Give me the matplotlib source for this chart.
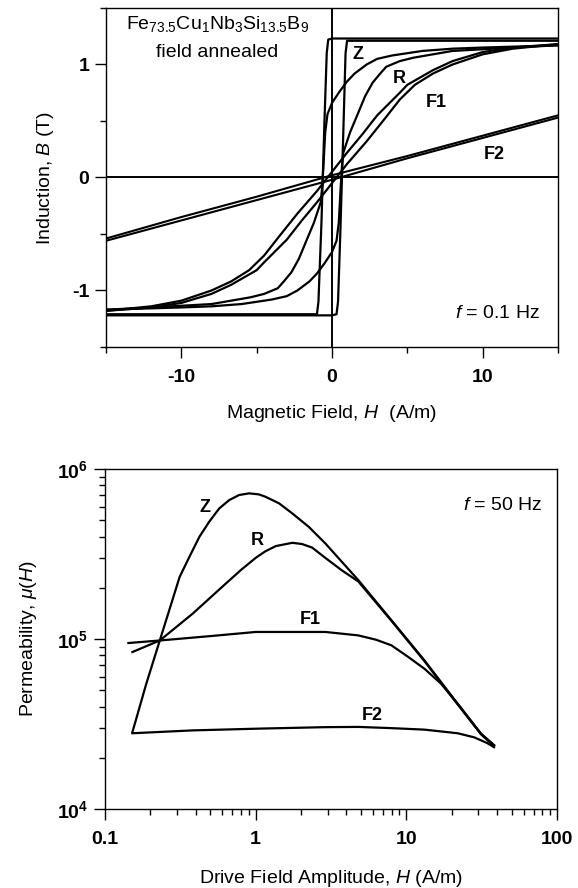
import numpy as np
import matplotlib
matplotlib.use("Agg")
import matplotlib.pyplot as plt
from matplotlib.ticker import MultipleLocator, LogLocator, NullFormatter

plt.rcParams['font.family'] = ['Liberation Sans', 'DejaVu Sans']
plt.rcParams['mathtext.fontset'] = 'custom'
plt.rcParams['mathtext.rm'] = 'Liberation Sans'
plt.rcParams['mathtext.it'] = 'Liberation Sans:italic'
plt.rcParams['mathtext.bf'] = 'Liberation Sans:bold'
plt.rcParams['axes.unicode_minus'] = False

# ----------------- top panel: hysteresis loops at f = 0.1 Hz -----------------
# each loop: descending branch (H from +15 to -15) and ascending branch (-15 to +15)
z_desc_H = [15, 5, 0, -0.25, -0.35, -0.5, -0.7, -0.9, -1.0, -5, -15]
z_desc_B = [1.23, 1.23, 1.23, 1.22, 1.1, 0.5, -0.4, -1.1, -1.21, -1.21, -1.21]
z_asc_H = [-15, -5, 0, 0.3, 0.4, 0.55, 0.75, 0.9, 1.0, 5, 15]
z_asc_B = [-1.22, -1.22, -1.22, -1.21, -1.1, -0.5, 0.4, 1.1, 1.21, 1.21, 1.21]

r_desc_H = [15, 10, 8, 6, 5, 4, 3, 2.3, 1.5, 1, 0.5, 0, -0.3, -0.45, -0.55, -0.65,
            -0.75, -1.2, -1.64, -2.2, -2.7, -3.2, -3.6, -4.5, -5.4, -8, -12, -15]
r_desc_B = [1.17, 1.15, 1.14, 1.12, 1.10, 1.08, 1.05, 1.0, 0.92, 0.85, 0.76, 0.66,
            0.56, 0.4, 0.15, -0.08, -0.22, -0.4, -0.54, -0.72, -0.84, -0.92,
            -0.98, -1.03, -1.06, -1.12, -1.15, -1.17]
r_asc_H = [-15, -10, -8, -6, -5, -4, -3, -2.3, -1.5, -1, -0.5, 0, 0.3, 0.45, 0.55,
           0.65, 0.75, 1.2, 1.64, 2.2, 2.7, 3.2, 3.6, 4.5, 5.4, 8, 12, 15]
r_asc_B = [-1.17, -1.15, -1.14, -1.12, -1.10, -1.08, -1.05, -1.0, -0.92, -0.85,
           -0.76, -0.66, -0.56, -0.4, -0.15, 0.08, 0.22, 0.4, 0.54, 0.72, 0.84,
           0.92, 0.98, 1.03, 1.06, 1.12, 1.15, 1.17]

f1_asc_H = [-15, -12, -10, -8, -6.7, -5, -4.5, -3, -2, -1, 0, 1, 2.3, 3.5, 4.5,
            5.5, 6.7, 8, 10, 12, 15]
f1_asc_B = [-1.18, -1.15, -1.11, -1.03, -0.95, -0.82, -0.75, -0.55, -0.38, -0.22,
            -0.05, 0.12, 0.32, 0.52, 0.69, 0.82, 0.92, 1.0, 1.09, 1.14, 1.18]
f1_desc_H = [15, 12, 10, 8, 6.7, 5, 4.5, 3, 2, 1, 0, -1, -2.3, -3.5, -4.5, -5.5,
             -6.7, -8, -10, -12, -15]
f1_desc_B = [1.18, 1.15, 1.11, 1.03, 0.95, 0.82, 0.75, 0.55, 0.38, 0.22, 0.05,
             -0.12, -0.32, -0.52, -0.69, -0.82, -0.92, -1.0, -1.09, -1.14, -1.18]

f2_asc_H = [-15, -10, -5, 0, 5, 10, 15]
f2_asc_B = [-0.56, -0.38, -0.2, -0.02, 0.17, 0.35, 0.53]
f2_desc_H = [15, 10, 5, 0, -5, -10, -15]
f2_desc_B = [0.55, 0.37, 0.19, 0.02, -0.17, -0.35, -0.54]

# ----------------- bottom panel: permeability at f = 50 Hz -----------------
z_H = [0.152, 0.188, 0.231, 0.313, 0.363, 0.423, 0.492, 0.573, 0.667, 0.776,
       0.904, 1.05, 1.16, 1.43, 1.75, 2.25, 2.90, 4.80, 7.96, 13.2, 21.9, 31.3, 38.2]
z_mu = [28300, 54600, 98000, 232000, 304000, 399000, 490000, 586000, 656000,
        703000, 719000, 709000, 687000, 628000, 548000, 457000, 365000, 222000,
        129000, 74800, 41600, 27700, 23600]

r_H = [0.152, 0.231, 0.382, 0.634, 0.8, 1.0, 1.16, 1.36, 1.75, 2.03, 2.37, 2.9,
       3.72, 4.80, 7.96, 13.2, 21.9, 31.3, 38.2]
r_mu = [83800, 98000, 141000, 212000, 255000, 300000, 328000, 352000, 368000,
        362000, 345000, 300000, 254000, 218000, 128000, 74000, 41300, 27500, 23500]

f1_H = [0.143, 0.231, 0.5, 1.0, 2.9, 4.8, 6.3, 7.96, 10.3, 13.2, 17.0, 21.9,
        31.3, 38.2]
f1_mu = [94700, 98000, 104000, 110000, 110000, 105000, 99000, 91800, 78400,
         66800, 54600, 41600, 27700, 23800]

f2_H = [0.152, 0.382, 1.05, 2.9, 4.8, 7.96, 13.2, 21.9, 28.2, 34.5, 38.2]
f2_mu = [27900, 29000, 29700, 30300, 30400, 29900, 29300, 27900, 26400, 24400,
         23100]

fig = plt.figure(figsize=(5.78, 8.88), dpi=100)

lw = 1.6
ax1 = fig.add_axes([106 / 578, (888 - 347) / 888, 452 / 578, 339 / 888])
ax1.axhline(0, color='black', lw=1.4)
ax1.axvline(0, color='black', lw=1.4)
for H, B in [(z_desc_H, z_desc_B), (z_asc_H, z_asc_B),
             (r_desc_H, r_desc_B), (r_asc_H, r_asc_B),
             (f1_desc_H, f1_desc_B), (f1_asc_H, f1_asc_B)]:
    ax1.plot(H, B, color='black', lw=lw)
for H, B in [(f2_desc_H, f2_desc_B), (f2_asc_H, f2_asc_B)]:
    ax1.plot(H, B, color='black', lw=1.5)

ax1.set_xlim(-15, 15)
ax1.set_ylim(-1.5, 1.5)
ax1.xaxis.set_major_locator(MultipleLocator(10))
ax1.xaxis.set_minor_locator(MultipleLocator(5))
ax1.yaxis.set_major_locator(MultipleLocator(1))
ax1.yaxis.set_minor_locator(MultipleLocator(0.5))
ax1.set_xlabel(r'Magnetic Field, $H$  (A/m)', fontsize=14, labelpad=12)
ax1.set_ylabel(r'Induction, $B$ (T)', fontsize=14)
ax1.yaxis.set_label_coords(-0.11, 0.5)

ax1.text(-7.6, 1.36, r'$\mathrm{Fe_{73.5}Cu_{1}Nb_{3}Si_{13.5}B_{9}}$',
         fontsize=14, ha='center', va='center')
ax1.text(-7.6, 1.11, 'field annealed', fontsize=14, ha='center', va='center')
ax1.text(1.7, 1.09, 'Z', fontsize=13, fontweight='bold', ha='center', va='center')
ax1.text(4.5, 0.88, 'R', fontsize=13, fontweight='bold', ha='center', va='center')
ax1.text(6.9, 0.66, 'F1', fontsize=13, fontweight='bold', ha='center', va='center')
ax1.text(10.8, 0.2, 'F2', fontsize=13, fontweight='bold', ha='center', va='center')
ax1.text(0.96, 0.10, r'$f$ = 0.1 Hz', transform=ax1.transAxes, fontsize=14,
         ha='right', va='center')

ax2 = fig.add_axes([105 / 578, (888 - 809) / 888, 452 / 578, 340 / 888])
ax2.plot(z_H, z_mu, color='black', lw=lw)
ax2.plot(r_H, r_mu, color='black', lw=lw)
ax2.plot(f1_H, f1_mu, color='black', lw=lw)
ax2.plot(f2_H, f2_mu, color='black', lw=lw)
ax2.set_xscale('log')
ax2.set_yscale('log')
ax2.set_xlim(0.1, 100)
ax2.set_ylim(1e4, 1e6)
ax2.set_xticks([0.1, 1, 10, 100])
ax2.set_xticklabels(['0.1', '1', '10', '100'])
ax2.set_yticks([1e4, 1e5, 1e6])
ax2.set_yticklabels([r'$\mathbf{10^{4}}$', r'$\mathbf{10^{5}}$', r'$\mathbf{10^{6}}$'])
ax2.xaxis.set_minor_locator(LogLocator(base=10, subs=np.arange(2, 10)))
ax2.yaxis.set_minor_locator(LogLocator(base=10, subs=np.arange(2, 10)))
ax2.xaxis.set_minor_formatter(NullFormatter())
ax2.yaxis.set_minor_formatter(NullFormatter())
ax2.set_xlabel(r'Drive Field Amplitude, $H$ (A/m)', fontsize=14, labelpad=14)
ax2.set_ylabel(r'Permeability, $\mu(H)$', fontsize=14)
ax2.yaxis.set_label_coords(-0.145, 0.5)

ax2.text(0.46, 5.9e5, 'Z', fontsize=13, fontweight='bold', ha='center', va='center')
ax2.text(1.02, 3.8e5, 'R', fontsize=13, fontweight='bold', ha='center', va='center')
ax2.text(2.29, 1.3e5, 'F1', fontsize=13, fontweight='bold', ha='center', va='center')
ax2.text(5.9, 3.57e4, 'F2', fontsize=13, fontweight='bold', ha='center', va='center')
ax2.text(0.967, 0.894, r'$f$ = 50 Hz', transform=ax2.transAxes, fontsize=14,
         ha='right', va='center')

for ax in (ax1, ax2):
    for s in ax.spines.values():
        s.set_linewidth(1.0)
    ax.tick_params(which='major', direction='out', length=8, width=1.0,
                   labelsize=14, pad=8)
    ax.tick_params(which='minor', direction='out', length=4, width=1.0)
    ax.tick_params(axis='y', which='major', pad=4)
    for lab in ax.get_xticklabels() + ax.get_yticklabels():
        lab.set_fontweight('bold')

fig.savefig('out.png', dpi=100)
